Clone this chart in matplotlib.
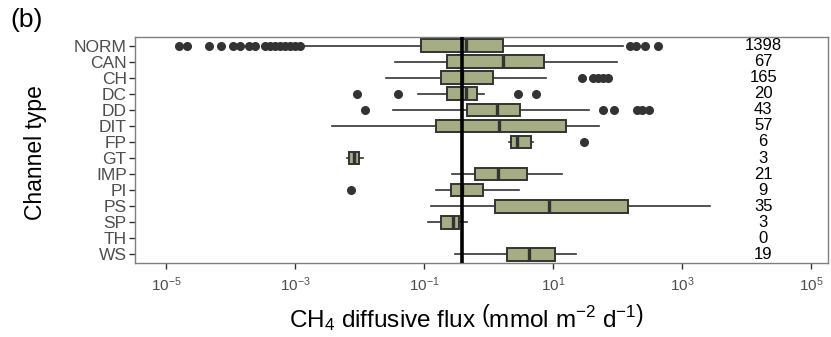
import numpy as np
import matplotlib
matplotlib.use("Agg")
import matplotlib.pyplot as plt

plt.rcParams['font.family'] = ['Liberation Sans', 'DejaVu Sans']
plt.rcParams['mathtext.fontset'] = 'custom'
plt.rcParams['mathtext.rm'] = 'Liberation Sans'
plt.rcParams['mathtext.it'] = 'Liberation Sans'

categories = ["NORM", "CAN", "CH", "DC", "DD", "DIT", "FP", "GT", "IMP", "PI", "PS", "SP", "TH", "WS"]
counts = [1398, 67, 165, 20, 43, 57, 6, 3, 21, 9, 35, 3, 0, 19]

whislo = [0.00126, 0.035, 0.026, 0.081, 0.033, 0.0038, 2.1, 0.0063, 0.27, 0.155, 0.13, 0.115, None, 0.30]
q1 = [0.091, 0.23, 0.18, 0.23, 0.47, 0.155, 2.24, 0.0069, 0.62, 0.26, 1.26, 0.18, None, 1.95]
med = [0.44, 1.66, 0.38, 0.44, 1.35, 1.45, 2.75, 0.0081, 1.41, 0.38, 8.7, 0.28, None, 4.3]
q3 = [1.66, 7.2, 1.18, 0.66, 3.1, 15.8, 4.6, 0.0098, 3.9, 0.81, 145, 0.35, None, 10.5]
whishi = [120, 98, 7.8, 0.85, 36, 51, 4.9, 0.0112, 13.8, 2.95, 2700, 0.47, None, 23]
outliers = [
    [1.6e-5, 2.1e-5, 4.7e-5, 7.1e-5, 1.1e-4, 1.4e-4, 1.9e-4, 2.4e-4, 3.4e-4, 4.1e-4,
     4.9e-4, 5.9e-4, 6.9e-4, 8.3e-4, 1.0e-3, 1.2e-3, 155, 195, 270, 427],
    [],
    [28, 42, 50, 60, 71],
    [0.0091, 0.040, 2.9, 5.5],
    [0.0123, 60, 89, 200, 240, 309],
    [],
    [30],
    [],
    [],
    [0.0074],
    [],
    [],
    [],
    [],
]
ref_line = 0.39
count_x = 1.8e4

fig = plt.figure(figsize=(8.31, 3.37), dpi=100)
ax = fig.add_axes([0.1625, 0.2196, 0.8339, 0.6706])

stats = []
positions = []
for i, c in enumerate(categories):
    if med[i] is None:
        continue
    stats.append(dict(med=med[i], q1=q1[i], q3=q3[i], whislo=whislo[i], whishi=whishi[i],
                      fliers=outliers[i], label=c))
    positions.append(i)

box_fill = '#a5ad85'
edge = '#333333'
ax.bxp(stats, positions=positions, vert=False, widths=0.8, patch_artist=True,
       showcaps=False,
       boxprops=dict(facecolor=box_fill, edgecolor=edge, linewidth=1.4),
       medianprops=dict(color=edge, linewidth=2.4),
       whiskerprops=dict(color=edge, linewidth=1.2),
       flierprops=dict(marker='o', markerfacecolor=edge, markeredgecolor=edge, markersize=5.5),
       zorder=2)

ax.axvline(ref_line, color='black', linewidth=2.6, zorder=5)

for i, n in enumerate(counts):
    ax.text(count_x, i, str(n), ha='center', va='center', fontsize=12, color='black')

ax.set_xscale('log')
ax.set_xlim(10**-5.48, 10**5.26)
ax.set_ylim(len(categories) - 1 + 0.55, -0.55)
ax.set_yticks(range(len(categories)))
ax.set_yticklabels(categories)
ax.set_xticks([1e-5, 1e-3, 1e-1, 1e1, 1e3, 1e5])
ax.set_xticklabels([r'$10^{-5}$', r'$10^{-3}$', r'$10^{-1}$', r'$10^{1}$', r'$10^{3}$', r'$10^{5}$'])
ax.xaxis.set_minor_locator(matplotlib.ticker.NullLocator())
ax.tick_params(axis='both', colors='#333333', labelcolor='#4d4d4d', length=4, width=1)
ax.tick_params(axis='y', labelsize=12.5, pad=2)
ax.tick_params(axis='x', labelsize=11, pad=5)
for s in ax.spines.values():
    s.set_color('#7f7f7f')
    s.set_linewidth(1)

ax.set_ylabel('Channel type', fontsize=16.5)
ax.yaxis.set_label_coords(-0.143, 0.49)
ax.set_xlabel(r'CH$_4$ diffusive flux $\left(\mathrm{mmol\ m^{-2}\ d^{-1}}\right)$', fontsize=17.5)
ax.xaxis.set_label_coords(0.478, -0.243)
ax.xaxis.label.set_va('center')
ax.yaxis.label.set_va('center')

fig.text(0.012, 0.975, '(b)', fontsize=19, ha='left', va='top')

fig.savefig('out.png', dpi=100)
